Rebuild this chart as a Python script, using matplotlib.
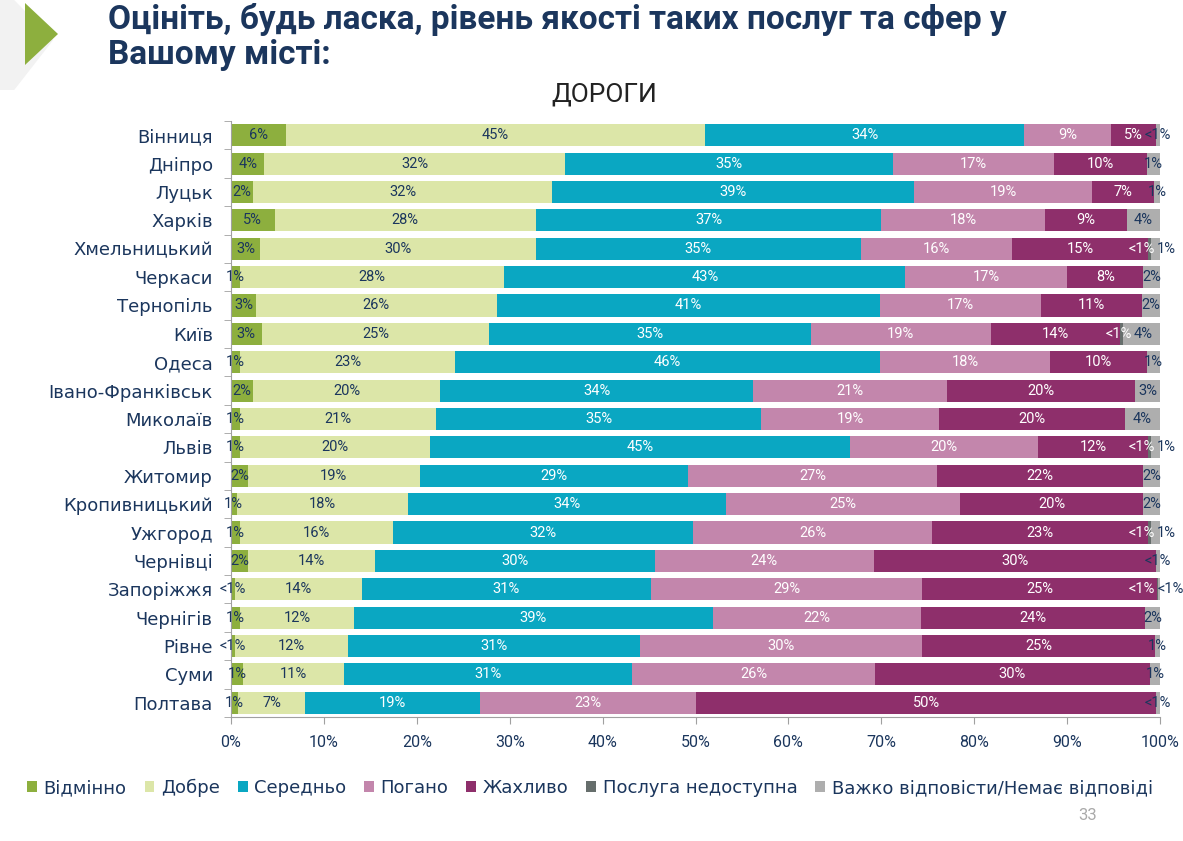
import numpy as np
import matplotlib
matplotlib.use("Agg")
import matplotlib.pyplot as plt
from matplotlib.patches import Polygon, Patch

plt.rcParams['font.family'] = ['DejaVu Sans']

NAVY = '#1B365D'

cities = ['Вінниця', 'Дніпро', 'Луцьк', 'Харків', 'Хмельницький', 'Черкаси',
          'Тернопіль', 'Київ', 'Одеса', 'Івано-Франківськ', 'Миколаїв', 'Львів',
          'Житомир', 'Кропивницький', 'Ужгород', 'Чернівці', 'Запоріжжя',
          'Чернігів', 'Рівне', 'Суми', 'Полтава']

excellent = [5.9, 3.6, 2.4, 4.7, 3.1, 1.0, 2.7, 3.3, 1.0, 2.4, 1.0, 1.0, 1.8, 0.6,
             1.0, 1.8, 0.4, 1.0, 0.4, 1.3, 0.8]
good = [45.1, 32.4, 32.2, 28.1, 29.7, 28.4, 25.9, 24.5, 23.1, 20.1, 21.1, 20.4,
        18.5, 18.4, 16.4, 13.7, 13.7, 12.2, 12.2, 10.9, 7.2]
average = [34.4, 35.3, 38.9, 37.2, 35.0, 43.2, 41.3, 34.6, 45.8, 33.7, 35.0, 45.2,
           28.9, 34.3, 32.3, 30.1, 31.1, 38.7, 31.4, 31.0, 18.8]
poor = [9.3, 17.3, 19.2, 17.6, 16.3, 17.4, 17.3, 19.4, 18.3, 20.9, 19.1, 20.3,
        26.8, 25.2, 25.8, 23.6, 29.2, 22.4, 30.4, 26.1, 23.3]
terrible = [4.9, 10.0, 6.7, 8.8, 14.6, 8.2, 10.9, 13.9, 10.4, 20.2, 20.0, 11.8,
            22.2, 19.7, 23.2, 30.4, 25.3, 24.1, 25.1, 29.6, 49.5]
unavailable = [0, 0, 0, 0, 0.3, 0, 0, 0.3, 0, 0, 0, 0.3, 0, 0, 0.3, 0, 0.1, 0, 0, 0, 0]
no_answer = [0.4, 1.4, 0.6, 3.6, 1.0, 1.8, 1.9, 4.0, 1.4, 2.7, 3.8, 1.0, 1.8, 1.8,
             1.0, 0.4, 0.2, 1.6, 0.5, 1.1, 0.4]

series_names = ['Відмінно', 'Добре', 'Середньо', 'Погано', 'Жахливо',
                'Послуга недоступна', 'Важко відповісти/Немає відповіді']
series = [excellent, good, average, poor, terrible, unavailable, no_answer]
colors = ['#8DAF3E', '#DCE6A8', '#0AA7C2', '#C386AC', '#8E2F6B', '#666E6C', '#AEAEAE']
text_colors = [NAVY, NAVY, 'white', 'white', 'white', 'white', NAVY]


def fmt(v):
    if v < 0.5:
        return '<1%'
    return f'{int(v + 0.5)}%'


fig = plt.figure(figsize=(11.83, 8.41), dpi=100)

# decoration top-left
fig.patches.append(Polygon([[0, 1], [0.012, 1], [0.045, 1 - 40 / 841], [0.012, 1 - 90 / 841], [0, 1 - 90 / 841]],
                           closed=True, transform=fig.transFigure, facecolor='#F2F2F2', edgecolor='none'))
fig.patches.append(Polygon([[25 / 1183, 1 - 3 / 841], [25 / 1183, 1 - 65 / 841], [58 / 1183, 1 - 34 / 841]],
                           closed=True, transform=fig.transFigure, facecolor='#8DAF3E', edgecolor='none'))

fig.text(108 / 1183, 1 - 3 / 841, 'Оцініть, будь ласка, рівень якості таких послуг та сфер у\nВашому місті:',
         fontsize=24, fontweight='bold', color=NAVY, va='top', ha='left', linespacing=1.12,
         family='Roboto')
fig.text(604 / 1183, 1 - 95 / 841, 'ДОРОГИ', fontsize=19, color='#222222', ha='center', va='center',
         family='Roboto')
fig.text(1088 / 1183, 1 - 815 / 841, '33', fontsize=12, color='#AAAAAA', ha='center', va='center',
         family='Roboto')

ax = fig.add_axes([231 / 1183, 1 - 717 / 841, 929 / 1183, 596 / 841])

y = np.arange(len(cities))
left = np.zeros(len(cities))
for k, (vals, c) in enumerate(zip(series, colors)):
    vals = np.array(vals, dtype=float)
    ax.barh(y, vals, left=left, height=0.78, color=c, edgecolor='none')
    for i, v in enumerate(vals):
        if v <= 0:
            continue
        cx, ha = left[i] + v / 2, 'center'
        # rows with "service unavailable": put the two end labels side by side
        if unavailable[i] > 0:
            dark_end = sum(s[i] for s in series[:6])
            xd = min(dark_end + 1.0, 99.5)
            if k == 5:
                cx, ha = xd, 'right'
            elif k == 6:
                cx, ha = xd + 0.2, 'left'
        ax.text(cx, y[i], fmt(v), ha=ha, va='center', fontsize=10.5,
                color=text_colors[k], family='Roboto')
    left += vals

ax.set_xlim(0, 100)
ax.set_ylim(len(cities) - 0.5, -0.5)
ax.set_yticks(y)
ax.set_yticklabels(cities, fontsize=13, color=NAVY)
ax.set_yticks(np.arange(len(cities) + 1) - 0.5, minor=True)
ax.tick_params(axis='y', which='major', length=0, pad=13)
ax.tick_params(axis='y', which='minor', length=5, color='#A0A0A0')
ax.set_xticks(np.arange(0, 101, 10))
ax.set_xticklabels([f'{t}%' for t in range(0, 101, 10)], fontsize=11.5, color=NAVY,
                   family='Roboto')
ax.tick_params(axis='x', length=5, color='#A0A0A0', pad=8)
for s in ['top', 'right']:
    ax.spines[s].set_visible(False)
for s in ['left', 'bottom']:
    ax.spines[s].set_color('#A0A0A0')

handles = [Patch(facecolor=c, edgecolor='none') for c in colors]
fig.legend(handles, series_names, loc='center', bbox_to_anchor=(590 / 1183, 1 - 788 / 841),
           ncol=7, frameon=False, fontsize=13, handlelength=0.55, handleheight=0.55,
           handletextpad=0.35, columnspacing=1.0, labelcolor=NAVY)

fig.savefig('out.png', dpi=100)
